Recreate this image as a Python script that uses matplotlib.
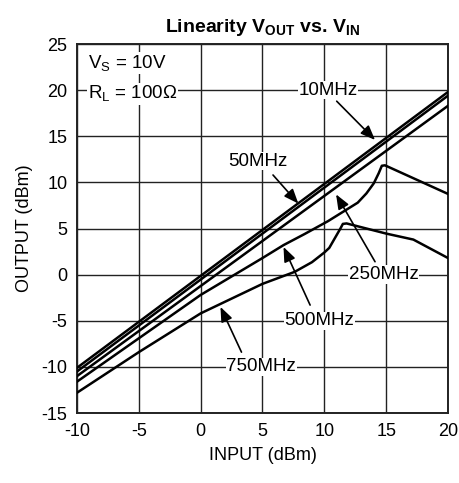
import matplotlib
matplotlib.use("Agg")
import matplotlib.pyplot as plt

plt.rcParams['font.family'] = ['Liberation Sans', 'DejaVu Sans']

# ---- data ----
x_10 = [-10, 20]
y_10 = [-10.1, 19.8]
x_50 = [-10, 20]
y_50 = [-10.5, 19.4]
x_250 = [-10, 20]
y_250 = [-11.0, 18.3]
x_500 = [-10, -5, 0, 5, 6.7, 8.4, 10.3, 12.7, 13.4, 14.0, 14.4, 14.65, 14.9, 20]
y_500 = [-11.6, -6.9, -2.2, 1.8, 3.2, 4.4, 5.8, 7.8, 8.8, 9.9, 11.0, 11.8, 11.85, 8.75]
x_750 = [-10, -5, 0, 5, 7.6, 9.0, 10.0, 10.4, 10.7, 11.0, 11.3, 11.5, 11.8, 15, 17.2, 20]
y_750 = [-12.8, -8.4, -4.2, -1.0, 0.3, 1.35, 2.4, 2.9, 3.6, 4.3, 5.0, 5.5, 5.55, 4.45, 3.8, 1.8]

x_ticks = [-10, -5, 0, 5, 10, 15, 20]
y_ticks = [-15, -10, -5, 0, 5, 10, 15, 20, 25]

labels = ["10MHz", "50MHz", "250MHz", "500MHz", "750MHz"]
label_xy = [(10.3, 20.0), (4.6, 12.3), (14.8, 0.0), (9.6, -5.0), (4.9, -10.0)]
arrow_from = [(11.0, 18.8), (5.85, 10.8), (14.1, 1.4), (8.85, -3.3), (3.3, -8.4)]
arrow_to = [(14.1, 14.6), (7.9, 7.7), (10.95, 8.7), (6.7, 3.0), (1.6, -3.5)]

FS = 13

fig = plt.figure(figsize=(4.6, 4.83), dpi=100)
ax = fig.add_axes([0.1674, 0.1449, 0.8065, 0.764])

ax.set_xlim(-10, 20)
ax.set_ylim(-15, 25)
ax.set_xticks(x_ticks)
ax.set_yticks(y_ticks)
ax.set_xticklabels([str(v) for v in x_ticks])
ax.set_yticklabels([str(v) for v in y_ticks])
ax.tick_params(length=0, labelsize=FS, pad=7, colors='black')
ax.grid(True, color='#222222', linewidth=1.0)
ax.set_axisbelow(True)
for s in ax.spines.values():
    s.set_linewidth(1.4)
    s.set_color('#222222')

for xs, ys in [(x_10, y_10), (x_50, y_50), (x_250, y_250), (x_500, y_500), (x_750, y_750)]:
    ax.plot(xs, ys, color='black', linewidth=1.8, zorder=3)

for lab, pos, af, at in zip(labels, label_xy, arrow_from, arrow_to):
    ax.text(pos[0], pos[1], lab, ha='center', va='center', fontsize=FS + 0.5, zorder=5,
            bbox=dict(facecolor='white', edgecolor='none', pad=0.5))
    ax.annotate('', xy=at, xytext=af, zorder=4,
                arrowprops=dict(arrowstyle='-|>,head_length=0.55,head_width=0.22',
                                color='black', lw=1.2,
                                mutation_scale=16, shrinkA=0, shrinkB=0))

ax.text(-9.1, 22.9, r'V$_\mathregular{S}$ = 10V', ha='left', va='center', fontsize=FS + 0.5, zorder=5,
        bbox=dict(facecolor='white', edgecolor='none', pad=0.5))
ax.text(-9.1, 19.6, r'R$_\mathregular{L}$ = 100Ω', ha='left', va='center', fontsize=FS + 0.5, zorder=5,
        bbox=dict(facecolor='white', edgecolor='none', pad=0.5))

ax.set_xlabel('INPUT (dBm)', fontsize=FS, labelpad=5)
ax.set_ylabel('OUTPUT (dBm)', fontsize=FS, labelpad=6)
ax.set_title(r'Linearity V$_\mathregular{OUT}$ vs. V$_\mathregular{IN}$', fontsize=FS + 1,
             fontweight='bold', pad=9)

fig.savefig('out.png', dpi=100)
